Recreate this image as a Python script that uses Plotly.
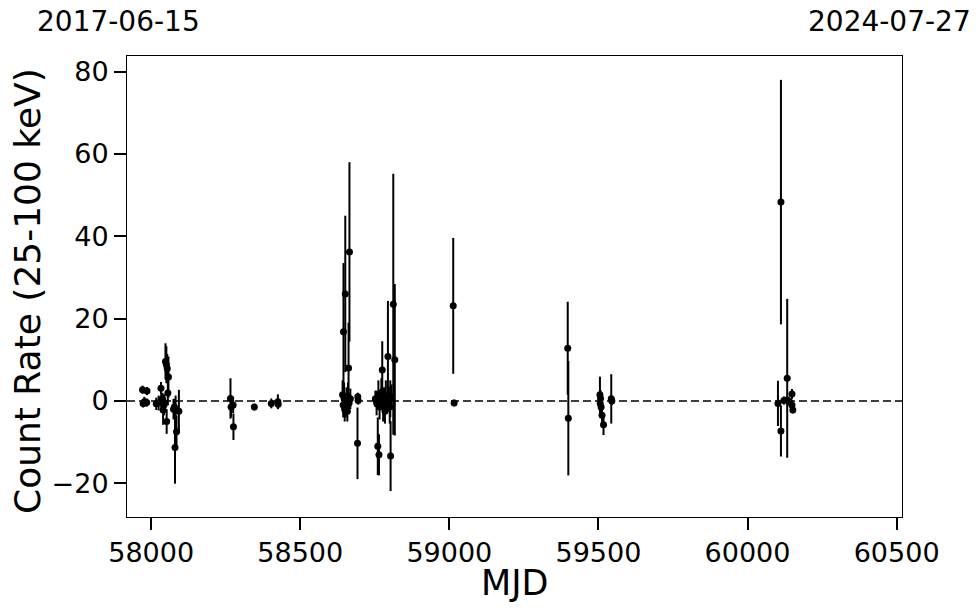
import plotly.graph_objects as go

# MJD, count rate, error
mjd = [
    57971, 57986, 57973, 57985, 57977,
    58017, 58025, 58033, 58034, 58040, 58043, 58048, 58051, 58054, 58052, 58056, 58058, 58044, 58038,
    58075, 58082, 58080, 58085, 58093, 58078,
    58266, 58268, 58275, 58276,
    58346,
    58403, 58425, 58426,
    58645, 58651, 58662, 58665, 58642, 58644, 58647, 58649, 58653, 58655, 58658, 58660, 58664, 58668,
    58693, 58694, 58692,
    58760, 58764, 58775, 58794, 58812, 58817, 58803, 58802,
    58752, 58756, 58762, 58766, 58770, 58772, 58778, 58781, 58784, 58787, 58790, 58797, 58800, 58806,
    59013, 59016,
    59397, 59399,
    59505, 59507, 59506, 59509, 59512, 59517, 59543, 59545,
    60102, 60112, 60112, 60122, 60133, 60133, 60141, 60149, 60149, 60152,
]
rate = [
    2.7, 2.4, -0.6, -0.4, -0.2,
    -0.7, -0.5, 3.1, -0.3, -2.2, -1.0, 9.6, 8.8, 7.9, -5.0, 1.9, 5.8, -0.4, 0.5,
    -2.0, -2.2, -11.3, -7.5, -2.5, -1.5,
    0.6, -1.5, -1.0, -6.3,
    -1.5,
    -0.6, -0.2, -0.8,
    16.8, 26.0, 8.0, 36.2, 1.5, -1.0, 0.5, -2.0, -1.5, 0.3, -2.5, 1.0, -0.5, 0.5,
    1.0, 0.1, -10.3,
    -11.0, -13.1, 7.5, 10.8, 23.5, 10.0, -13.4, 0.5,
    0.5, -0.5, 1.5, -1.5, 0.5, 2.0, -1.0, 0.3, -2.5, 1.0, -0.5, 0.5, -1.5, 1.0,
    23.1, -0.5,
    12.8, -4.2,
    1.5, 0.6, -0.6, -1.5, -3.5, -5.8, 0.5, 0.0,
    -0.6, 48.3, -7.3, 0.1, 5.5, 0.2, -0.2, 1.7, -1.0, -2.2,
]
err = [
    1.0, 1.0, 1.0, 1.0, 1.2,
    1.5, 1.8, 1.5, 2.0, 3.6, 2.5, 4.4, 4.5, 3.5, 3.0, 3.0, 5.0, 2.0, 1.5,
    2.5, 3.5, 8.8, 4.0, 5.2, 2.0,
    4.9, 2.5, 2.0, 3.2,
    0.8,
    1.2, 1.8, 1.0,
    16.7, 19.0, 11.0, 21.8, 3.5, 3.0, 4.0, 3.0, 2.5, 3.0, 2.5, 3.5, 2.0, 2.5,
    1.0, 1.0, 8.7,
    7.0, 5.0, 7.0, 13.5, 31.7, 18.4, 8.5, 4.5,
    2.0, 3.0, 3.5, 3.0, 2.5, 3.5, 4.0, 3.0, 3.0, 4.0, 2.5, 3.0, 4.0, 3.0,
    16.5, 0.8,
    11.3, 13.9,
    4.4, 2.0, 2.5, 2.0, 2.5, 2.5, 6.0, 1.0,
    5.5, 29.7, 6.2, 1.0, 19.3, 1.0, 1.0, 1.2, 1.0, 0.8,
]

x_range = [57919, 60518]
y_range = [-28.2, 83.8]
x_ticks = [58000, 58500, 59000, 59500, 60000, 60500]
y_ticks = [-20, 0, 20, 40, 60, 80]
top_labels = ["2017-06-15", "2024-07-27"]

FONT = "DejaVu Sans"
L, R, T, B = 127, 78, 56, 96
W, H = 980, 613
PW, PH = W - L - R, H - T - B


def px_x(p):
    return (p - L) / PW


def px_y(p):
    return (H - B - p) / PH


fig = go.Figure()
fig.add_trace(go.Scatter(
    x=mjd, y=rate, mode="markers",
    marker=dict(color="black", size=7),
    error_y=dict(type="data", array=err, visible=True, color="black", thickness=2, width=0),
    showlegend=False,
))

fig.add_shape(type="line", xref="paper", yref="y", x0=0, x1=1, y0=0, y1=0,
              line=dict(color="black", width=1.5, dash="8px,4px"), layer="below")

fig.add_annotation(x=px_x(118), y=px_y(22), xref="paper", yref="paper", text=top_labels[0],
                   showarrow=False, xanchor="center", yanchor="middle",
                   font=dict(family=FONT, size=28, color="black"))
fig.add_annotation(x=px_x(889), y=px_y(22), xref="paper", yref="paper", text=top_labels[1],
                   showarrow=False, xanchor="center", yanchor="middle",
                   font=dict(family=FONT, size=28, color="black"))

# axis titles
fig.add_annotation(x=px_x(514), y=px_y(583), xref="paper", yref="paper", text="MJD",
                   showarrow=False, xanchor="center", yanchor="middle",
                   font=dict(family=FONT, size=35, color="black"))
fig.add_annotation(x=px_x(27), y=px_y(291), xref="paper", yref="paper", text="Count Rate (25-100 keV)",
                   showarrow=False, xanchor="center", yanchor="middle", textangle=-90,
                   font=dict(family=FONT, size=36, color="black"))

axis_common = dict(
    showline=True, linecolor="black", linewidth=1, mirror=True,
    ticks="outside", ticklen=12, tickwidth=2, tickcolor="black",
    showgrid=False, zeroline=False, automargin=False,
    tickfont=dict(family=FONT, size=27, color="black"),
)

fig.update_xaxes(range=x_range, tickvals=x_ticks, ticktext=[str(t) for t in x_ticks], **axis_common)
fig.update_yaxes(range=y_range, tickvals=y_ticks, **axis_common)

fig.update_layout(
    width=W, height=H,
    margin=dict(l=L, r=R, t=T, b=B),
    plot_bgcolor="white", paper_bgcolor="white",
    font=dict(family=FONT, color="black"),
)

fig.write_html("out.html", config={"displayModeBar": False},
               post_script="document.body.style.margin='0';document.body.style.overflow='hidden';")
